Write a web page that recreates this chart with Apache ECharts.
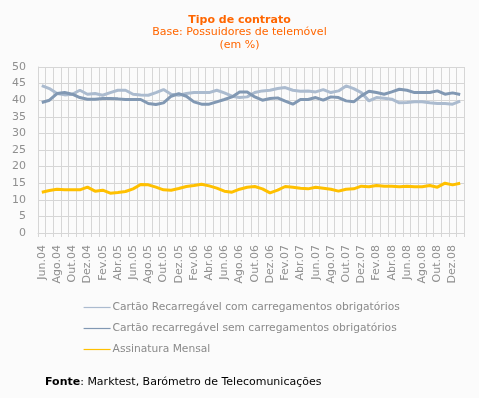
<!DOCTYPE html>
<html>
<head>
<meta charset="utf-8">
<script src="https://cdn.jsdelivr.net/npm/echarts@6/dist/echarts.min.js"></script>
<style>
html,body{margin:0;padding:0;background:#fbfbfb;}
#chart{width:479px;height:398px;}
</style>
</head>
<body>
<div id="chart"></div>
<script>
// meses (Jun.04 - Jan.09)
var meses = [
  'Jun.04','Jul.04','Ago.04','Set.04','Out.04','Nov.04','Dez.04',
  'Jan.05','Fev.05','Mar.05','Abr.05','Mai.05','Jun.05','Jul.05','Ago.05','Set.05','Out.05','Nov.05','Dez.05',
  'Jan.06','Fev.06','Mar.06','Abr.06','Mai.06','Jun.06','Jul.06','Ago.06','Set.06','Out.06','Nov.06','Dez.06',
  'Jan.07','Fev.07','Mar.07','Abr.07','Mai.07','Jun.07','Jul.07','Ago.07','Set.07','Out.07','Nov.07','Dez.07',
  'Jan.08','Fev.08','Mar.08','Abr.08','Mai.08','Jun.08','Jul.08','Ago.08','Set.08','Out.08','Nov.08','Dez.08',
  'Jan.09'
];
var comCarregamentos = [
  44.4,43.5,42.0,41.6,41.8,43.0,41.8,42.0,41.5,42.3,
  43.0,43.0,41.8,41.6,41.5,42.3,43.2,41.8,41.5,42.0,
  42.3,42.3,42.3,43.0,42.2,41.2,40.8,41.0,42.3,42.8,
  43.0,43.5,43.8,43.0,42.7,42.8,42.5,43.2,42.3,42.8,
  44.3,43.5,42.3,39.8,40.8,40.6,40.3,39.2,39.3,39.5,
  39.5,39.2,39.0,39.0,38.8,39.7
];
var semCarregamentos = [
  39.3,40.0,42.0,42.3,41.8,40.8,40.3,40.3,40.5,40.5,
  40.4,40.2,40.2,40.2,39.0,38.7,39.2,41.2,42.0,41.2,
  39.5,38.8,38.8,39.5,40.2,41.0,42.5,42.5,41.0,40.0,
  40.5,40.7,39.7,38.8,40.2,40.2,40.8,40.0,41.0,40.8,
  39.8,39.5,41.3,42.7,42.3,41.8,42.5,43.3,43.0,42.3,
  42.3,42.3,42.8,41.8,42.2,41.7
];
var assinatura = [
  12.3,12.8,13.2,13.0,13.0,13.0,13.8,12.6,12.9,12.0,
  12.2,12.5,13.3,14.6,14.5,13.8,13.0,12.9,13.4,14.0,
  14.3,14.7,14.2,13.5,12.6,12.3,13.2,13.8,14.0,13.3,
  12.1,12.9,14.0,13.8,13.5,13.3,13.8,13.5,13.2,12.6,
  13.2,13.3,14.1,13.9,14.3,14.1,14.1,13.9,14.1,13.9,
  13.9,14.3,13.8,15.0,14.5,15.0
];
var nomes = [
  'Cartão Recarregável com carregamentos obrigatórios',
  'Cartão recarregável sem carregamentos obrigatórios',
  'Assinatura Mensal'
];
var cores = ['#abbbcf', '#8198b3', '#ffc000'];

var chart = echarts.init(document.getElementById('chart'));
var fonte = 'DejaVu Sans';
chart.setOption({
  backgroundColor: '#fbfbfb',
  textStyle: { fontFamily: fonte },
  title: {
    text: 'Tipo de contrato',
    subtext: 'Base: Possuidores de telemóvel\n(em %)',
    left: 'center',
    top: 10,
    itemGap: 0,
    textStyle: { color: '#ff6600', fontSize: 11, fontWeight: 'bold', fontFamily: fonte },
    subtextStyle: { color: '#ff6600', fontSize: 11, lineHeight: 13, fontFamily: fonte }
  },
  color: cores,
  legend: {
    orient: 'vertical',
    left: 83,
    top: 301,
    padding: 0,
    itemWidth: 27,
    itemHeight: 13,
    itemGap: 8,
    lineStyle: { width: 1.2 },
    itemStyle: { opacity: 0 },
    textStyle: { color: '#8a8a8a', fontSize: 10.7, lineHeight: 13, fontFamily: fonte, padding: [0, 0, 0, -3] },
    data: nomes
  },
  grid: { left: 38, right: 15, top: 67, bottom: 165 },
  xAxis: {
    type: 'category',
    data: meses,
    boundaryGap: true,
    axisLine: { lineStyle: { color: '#d6d6d6', width: 1 } },
    axisTick: { show: true, interval: 0, length: 4, lineStyle: { color: '#d6d6d6' } },
    axisLabel: { interval: 1, rotate: 90, color: '#8f8f8f', fontSize: 11, margin: 12 },
    splitLine: { show: true, interval: 0, lineStyle: { color: '#d6d6d6', width: 1 } }
  },
  yAxis: {
    type: 'value',
    min: 0,
    max: 50,
    interval: 5,
    axisLine: { show: true, lineStyle: { color: '#d6d6d6' } },
    axisTick: { show: false },
    axisLabel: { color: '#8f8f8f', fontSize: 11, margin: 12 },
    splitLine: { lineStyle: { color: '#d6d6d6', width: 1 } }
  },
  series: [
    { name: nomes[0], type: 'line', data: comCarregamentos, symbol: 'none', lineStyle: { width: 3 } },
    { name: nomes[1], type: 'line', data: semCarregamentos, symbol: 'none', lineStyle: { width: 3 } },
    { name: nomes[2], type: 'line', data: assinatura, symbol: 'none', lineStyle: { width: 3 } }
  ],
  graphic: [{
    type: 'text',
    left: 45,
    top: 377,
    style: {
      text: '{b|Fonte}: Marktest, Barómetro de Telecomunicações',
      fill: '#000',
      font: '11px DejaVu Sans',
      rich: { b: { fontWeight: 'bold', fontSize: 11, fontFamily: fonte, fill: '#000' } }
    }
  }]
});
</script>
</body>
</html>
